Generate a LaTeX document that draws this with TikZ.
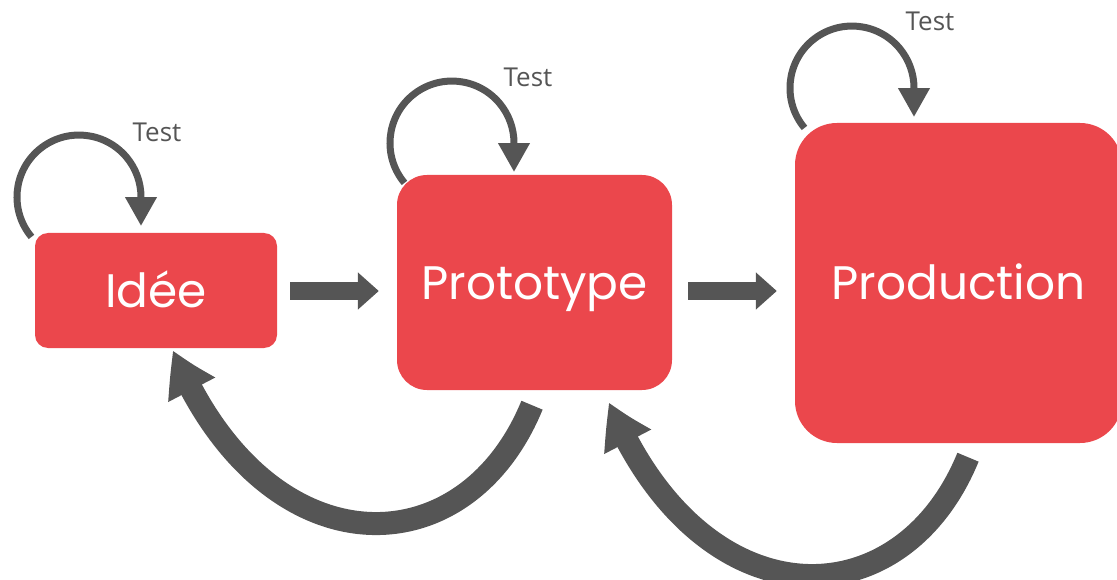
\documentclass[tikz,border=0pt]{standalone}
\usepackage{fontspec}
\setmainfont{Poppins}
\newfontfamily\testfont{Open Sans}
\usetikzlibrary{arrows.meta,calc,bending}
\definecolor{boxred}{RGB}{235,71,76}
\definecolor{arrowgray}{RGB}{85,85,85}
\begin{document}
\begin{tikzpicture}[x=1pt,y=-1pt,
  stage/.style={fill=boxred, draw=none, text=white, font=\fontsize{47}{50}\selectfont,
    inner sep=0pt, text height=33pt, text depth=0pt, anchor=center},
  loopline/.style={draw=arrowgray, line width=7pt, -{Triangle[width=30pt,length=29pt]}},
  flow/.style={draw=arrowgray, line width=18pt, -{Triangle[width=36pt,length=21pt]}},
  backflow/.style={draw=arrowgray, line width=23pt, -{Triangle[width=49pt,length=45pt,bend]}},
  testlabel/.style={text=arrowgray, font=\testfont\fontsize{26}{28}\selectfont, inner sep=0pt}
]
\useasboundingbox (0,0) rectangle (1117,580);

% stages
\node[stage, minimum width=242pt, minimum height=115pt, rounded corners=13pt] (idee) at (156,290.5) {Idée};
\node[stage, minimum width=275pt, minimum height=215pt, rounded corners=30pt] (proto) at (534.5,282.5) {Prototype};
\node[stage, minimum width=327pt, minimum height=320pt, rounded corners=42pt] (prod) at (958.5,283) {Production};

% test loops
\coordinate (l1) at (31.5,236.9);
\coordinate (l2) at (404.5,182.9);
\coordinate (l3) at (804.5,127.9);
\draw[loopline] (l1) arc[start angle=220, end angle=0, radius=62pt] -- ++(0,29);
\draw[loopline] (l2) arc[start angle=220, end angle=0, radius=62pt] -- ++(0,29);
\draw[loopline] (l3) arc[start angle=220, end angle=0, radius=62pt] -- ++(0,29);
\node[testlabel] (t1) at (157,132) {Test};
\node[testlabel] (t2) at (528,77) {Test};
\node[testlabel] (t3) at (930,21) {Test};

% forward arrows
\draw[flow] ($(idee.east)+(13,0.5)$) -- ($(idee.east -| proto.west)+(-18,0.5)$);
\draw[flow] ($(proto.east)+(16,8.5)$) -- ($(proto.east -| prod.west)+(-18,8.5)$);

% back arrows
\coordinate (b1) at ($(proto.south)+(-2.5,15)$);
\coordinate (e1) at ($(idee.south)+(17,2)$);
\coordinate (b2) at ($(prod.south)+(9.5,14)$);
\coordinate (e2) at ($(proto.south)+(74.5,12)$);
\draw[backflow] (b1) .. controls ($(b1)+(-68,166)$) and ($(e1)+(91,221)$) .. (e1);
\draw[backflow] (b2) .. controls ($(b2)+(-68,166)$) and ($(e2)+(91,221)$) .. (e2);
\end{tikzpicture}
\end{document}
